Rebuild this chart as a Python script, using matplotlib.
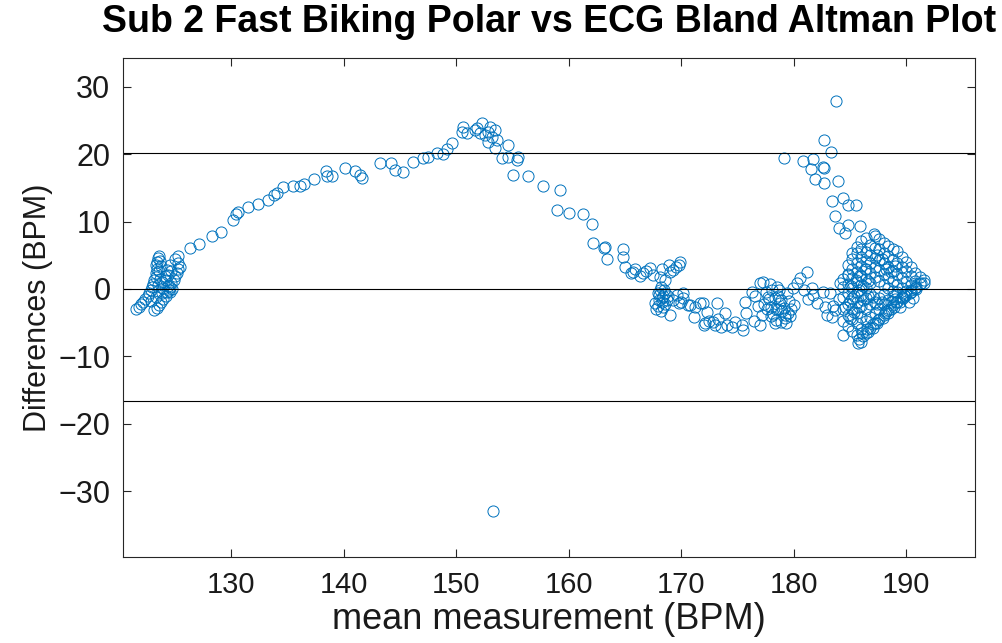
import numpy as np
import matplotlib
matplotlib.use("Agg")
import matplotlib.pyplot as plt

plt.rcParams["font.family"] = ["Liberation Sans", "DejaVu Sans"]

# --- data (mean BPM, difference BPM) ---

# low-rate start, two steep bands around 122-126 BPM
start_mean = [121.6, 121.8, 122.0, 122.2, 122.4, 122.6, 122.7, 122.9, 123.0, 123.1,
              123.2, 123.3, 123.3, 123.4, 123.3, 123.4, 123.5, 123.6, 123.7, 123.8,
              123.6, 123.7, 123.5, 123.2, 123.4, 123.6, 123.8, 124.0, 124.2, 124.3,
              124.5, 124.6, 124.4, 124.7, 124.9, 125.0, 125.2, 125.3, 125.5, 125.3,
              125.0, 125.3, 124.6, 124.3, 124.1, 123.9, 124.2, 124.0, 124.6, 124.8,
              123.9, 124.4, 124.7, 123.5, 123.3, 122.9]
start_diff = [-2.9, -2.6, -2.2, -1.9, -1.5, -1.1, -0.6, -0.2, 0.3, 0.8,
              1.3, 1.8, 2.4, 2.9, 3.5, 4.0, 4.6, 4.9, 4.2, 3.4,
              2.6, 1.5, 0.6, -3.1, -2.8, -2.4, -1.9, -1.5, -1.0, -0.5,
              -0.1, 0.3, 0.5, 0.9, 1.4, 1.9, 2.4, 2.9, 3.3, 3.8,
              4.4, 4.9, 3.6, 2.8, 2.0, 1.0, 1.4, 0.2, -0.4, 0.0,
              -0.6, 2.1, 2.6, -0.3, -1.2, -1.8]

# rising arm 126-150 BPM
rise_mean = [126.4, 127.2, 128.3, 129.1, 130.2, 130.4, 130.6, 131.5, 132.4, 133.3,
             133.8, 134.1, 134.6, 135.5, 136.1, 136.5, 137.4, 138.4, 138.5, 139.0,
             140.1, 141.0, 141.5, 141.6, 143.2, 144.2, 144.6, 145.3, 146.2, 147.1,
             147.5, 148.3, 148.8, 149.2, 149.6]
rise_diff = [6.1, 6.7, 7.9, 8.5, 10.3, 11.1, 11.4, 12.2, 12.6, 13.2,
             14.0, 14.3, 15.2, 15.3, 15.3, 15.6, 16.4, 17.5, 16.8, 16.8,
             18.0, 17.5, 16.9, 16.5, 18.7, 18.7, 17.7, 17.4, 18.9, 19.5,
             19.6, 20.2, 20.1, 20.8, 21.7]

# peak and descent 150-165 BPM
peak_mean = [150.6, 150.5, 151.0, 151.7, 152.3, 152.1, 152.8, 153.5, 153.2, 152.8,
             153.5, 154.6, 154.1, 154.6, 155.4, 155.5, 151.9, 153.0, 152.6, 153.6,
             155.1, 156.4, 157.7, 159.2, 159.0, 160.0, 161.3, 162.1, 162.2, 163.2,
             163.4, 164.8, 164.8, 163.1]
peak_diff = [24.0, 23.3, 23.2, 23.6, 24.6, 23.2, 23.3, 23.6, 22.6, 21.8,
             20.9, 21.4, 19.5, 19.6, 19.2, 19.6, 23.9, 24.1, 22.9, 22.1,
             16.9, 16.8, 15.3, 14.7, 11.7, 11.3, 11.1, 9.7, 6.8, 6.2,
             4.4, 5.9, 4.8, 6.1]

# single outlier
outlier_mean = [153.3]
outlier_diff = [-33.0]

# 165-184 BPM trough
trough_mean = [165.7, 165.5, 166.6, 167.2, 168.1, 168.6, 169.0, 169.3, 169.9, 169.8,
               167.9, 168.0, 167.7, 168.4, 169.0, 168.3, 168.6, 170.2, 169.8, 170.6,
               171.1, 171.7, 172.3, 173.2, 172.0, 172.8, 165.0, 165.9, 166.3, 166.9,
               167.5, 168.3, 168.9, 169.5, 168.2, 168.5, 168.0, 168.3, 168.7, 167.8,
               169.3, 169.6, 170.0, 170.2, 170.8, 171.2, 171.9, 172.1, 173.0, 173.5,
               173.9, 174.1, 174.8, 175.4, 175.5, 175.8, 175.7, 176.3, 177.0, 177.3,
               177.0, 177.2, 172.5, 173.3, 174.5, 176.5, 176.8, 176.6, 177.5, 177.8,
               178.0, 178.2, 178.4, 178.6, 178.8, 179.0, 179.2, 178.5, 177.9, 177.6,
               178.3, 179.4, 179.6, 179.8, 179.3, 178.9, 179.9, 180.3, 180.6, 181.2,
               180.0, 179.7, 178.1, 178.7, 181.7, 182.1, 182.8, 183.4, 183.7, 181.6,
               182.6, 183.2, 180.9, 181.3, 177.4, 178.4, 179.1, 178.0, 177.7, 179.5,
               168.1, 168.4, 167.9, 168.6, 168.2, 168.8, 178.3, 178.9, 179.2, 178.6]
trough_diff = [2.5, 2.4, 2.4, 3.1, 1.8, 1.3, 2.5, 2.8, 4.0, 3.6,
               -0.6, -1.6, -2.1, -2.7, -3.9, -1.3, -0.6, -0.6, -2.1, -2.4,
               -4.2, -2.1, -3.4, -2.1, -5.4, -4.9, 3.2, 3.0, 2.0, 2.7,
               2.1, 2.9, 3.5, 3.2, 0.3, -0.2, -0.9, -2.0, -1.7, -3.0,
               -1.6, -0.9, -2.0, -1.3, -2.4, -2.7, -2.1, -5.0, -5.3, -5.6,
               -3.6, -5.3, -4.9, -5.3, -6.1, -3.6, -1.9, -0.4, 0.9, 1.0,
               -5.3, -3.9, -4.8, -4.5, -5.6, -4.8, -2.5, -1.0, -0.4, -1.5,
               -2.6, -3.7, -4.6, -1.0, -2.1, -3.2, -4.3, 0.3, 0.8, -3.0,
               -5.1, -0.6, -1.8, -3.0, -5.0, -4.9, 0.2, 0.9, 1.6, 2.5,
               -2.4, -4.0, -0.2, -0.1, -0.9, -2.1, -2.7, -4.2, -3.1, 0.1,
               -0.4, -0.6, -0.2, -1.5, -2.2, -3.0, -2.8, -4.0, -1.2, -3.6,
               -0.2, -1.1, -2.5, -2.3, -3.3, -1.0, -1.4, -1.7, -3.8, -2.9]

# upper branch 179-187 BPM
branch_mean = [179.1, 180.8, 181.7, 181.5, 182.6, 182.7, 181.9, 182.7, 182.7, 183.3,
               183.8, 183.9, 183.4, 184.4, 184.8, 185.5, 183.7, 184.0, 184.8, 184.6,
               185.9, 187.1, 186.4]
branch_diff = [19.5, 19.0, 19.3, 17.8, 18.1, 18.0, 16.3, 15.8, 22.1, 20.4,
               27.9, 16.0, 13.1, 13.5, 12.5, 12.5, 10.8, 9.1, 9.5, 8.3,
               9.4, 8.2, 7.6]

# dense high-rate block 184-192 BPM
block_mean = [184.4, 184.4, 184.4, 184.4, 184.4,
              184.8, 184.8, 184.8, 184.8, 184.8, 184.8, 184.8,
              185.2, 185.2, 185.2, 185.2, 185.2, 185.2, 185.2, 185.2, 185.2,
              185.6, 185.6, 185.6, 185.6, 185.6, 185.6, 185.6, 185.6, 185.6, 185.6,
              186.0, 186.0, 186.0, 186.0, 186.0, 186.0, 186.0, 186.0, 186.0, 186.0, 186.0,
              186.4, 186.4, 186.4, 186.4, 186.4, 186.4, 186.4, 186.4, 186.4,
              186.8, 186.8, 186.8, 186.8, 186.8, 186.8, 186.8, 186.8, 186.8,
              187.2, 187.2, 187.2, 187.2, 187.2, 187.2, 187.2, 187.2,
              187.6, 187.6, 187.6, 187.6, 187.6, 187.6, 187.6, 187.6,
              188.0, 188.0, 188.0, 188.0, 188.0, 188.0, 188.0, 188.0,
              188.4, 188.4, 188.4, 188.4, 188.4, 188.4, 188.4,
              188.8, 188.8, 188.8, 188.8, 188.8, 188.8, 188.8,
              189.2, 189.2, 189.2, 189.2, 189.2, 189.2,
              189.6, 189.6, 189.6, 189.6, 189.6,
              190.0, 190.0, 190.0, 190.0, 190.0,
              190.4, 190.4, 190.4, 190.4,
              190.8, 190.8, 190.8,
              191.2, 191.2, 191.6, 191.6,
              185.8, 186.2, 186.6, 187.0, 187.4, 187.9, 188.4, 188.9, 189.4, 189.9,
              190.4, 190.9, 191.3, 183.0, 183.5, 184.0, 184.4, 184.1, 185.7, 184.8,
              186.1, 186.5, 187.0, 187.5, 188.1, 188.6, 189.1, 189.7, 190.3, 190.9,
              184.6, 185.0, 185.4, 185.8, 186.2, 186.6, 185.0, 185.4, 185.8, 186.2,
              186.6, 185.1, 185.5, 185.9, 186.3, 187.4, 187.8, 188.2, 188.6, 189.0,
              187.0, 187.4, 187.8, 188.2, 188.6, 189.0, 189.4, 189.8, 190.2, 190.6]
block_diff = [-4.8, -3.0, -1.2, 0.3, 1.5,
              -5.5, -3.8, -2.2, -0.6, 0.8, 2.2, 3.6,
              -6.2, -4.5, -2.9, -1.3, 0.2, 1.6, 3.0, 4.4, 5.4,
              -6.8, -5.1, -3.5, -1.9, -0.4, 1.1, 2.5, 3.9, 5.3, 6.3,
              -7.9, -6.0, -4.2, -2.5, -0.9, 0.6, 2.0, 3.4, 4.8, 6.0, 7.2,
              -6.6, -4.8, -3.0, -1.4, 0.1, 1.5, 2.9, 4.2, 5.5,
              -5.8, -4.1, -2.3, -0.7, 0.9, 2.4, 3.8, 5.0, 6.5,
              7.9, 6.1, 4.6, 3.2, 1.8, -2.0, -3.5, -5.0,
              7.4, 5.9, 4.3, 2.8, 1.2, -1.4, -3.0, -4.5,
              6.9, 5.3, 3.8, 2.2, 0.6, -0.8, -2.3, -3.8,
              6.4, 4.9, 3.3, 1.7, 0.2, -1.6, -3.1,
              5.9, 4.3, 2.7, 1.2, -0.3, -1.0, -2.4,
              5.6, 3.8, 2.2, 0.6, -0.5, -1.9,
              4.8, 3.2, 1.6, 0.1, -1.2,
              4.0, 2.6, 1.1, -0.3, -0.7,
              3.2, 1.9, 0.6, -0.1,
              2.4, 1.2, 0.2,
              1.8, 0.8, 1.3, 0.9,
              -7.4, -7.0, -6.4, -5.8, -5.1, -4.3, -3.5, -2.7, -1.9, -1.1,
              -0.4, 0.3, 0.9, -3.8, -2.5, -1.5, -6.8, 0.9, -8.0, 2.1,
              -6.6, -5.9, -5.2, -4.6, -3.6, -2.9, -2.0, -1.4, -0.6, 0.0,
              -2.6, -1.8, -1.0, -0.2, 0.5, 1.2, -4.3, -3.4, -2.7, -1.7,
              -1.0, 0.4, 1.3, 2.1, 3.0, 5.0, 4.5, 3.0, 2.5, 3.4,
              -1.2, -2.2, -1.9, -3.2, -1.9, -1.5, -2.7, -0.9, -2.0, -1.4]

upper_loa = 20.2
mean_line = 0.0
lower_loa = -16.7

x_ticks = [130, 140, 150, 160, 170, 180, 190]
y_ticks = [-30, -20, -10, 0, 10, 20, 30]

mean_all = np.concatenate([start_mean, rise_mean, peak_mean, outlier_mean,
                           trough_mean, branch_mean, block_mean])
diff_all = np.concatenate([start_diff, rise_diff, peak_diff, outlier_diff,
                           trough_diff, branch_diff, block_diff])

fig = plt.figure(figsize=(10.03, 6.43), dpi=100)
ax = fig.add_axes([0.1226, 0.1337, 0.8494, 0.7761])

ax.plot(mean_all, diff_all, linestyle="none", marker="o", markersize=8,
        markerfacecolor="none", markeredgecolor="#0072BD", markeredgewidth=0.7)

for yv in [upper_loa, mean_line, lower_loa]:
    ax.axhline(yv, color="black", linewidth=0.8)

ax.set_xlim(120.4, 196.1)
ax.set_ylim(-39.8, 34.3)
ax.set_xticks(x_ticks)
ax.set_yticks(y_ticks)
ax.tick_params(direction="in", top=True, right=True, length=6, width=0.8,
               colors="#262626")
ax.tick_params(axis="x", labelsize=21, pad=10)
ax.tick_params(axis="y", labelsize=22, pad=9)
for lab in ax.get_xticklabels() + ax.get_yticklabels():
    lab.set_color("#1a1a1a")
for s in ax.spines.values():
    s.set_color("#262626")
    s.set_linewidth(0.8)

ax.set_xlabel("mean measurement (BPM)", fontsize=26, color="#1a1a1a", labelpad=2)
ax.set_ylabel("Differences (BPM)", fontsize=22, color="#1a1a1a", labelpad=4)
ax.set_title("Sub 2 Fast Biking Polar vs ECG Bland Altman Plot", fontsize=27,
             fontweight="bold", pad=19)

fig.savefig("out.png", dpi=100)
